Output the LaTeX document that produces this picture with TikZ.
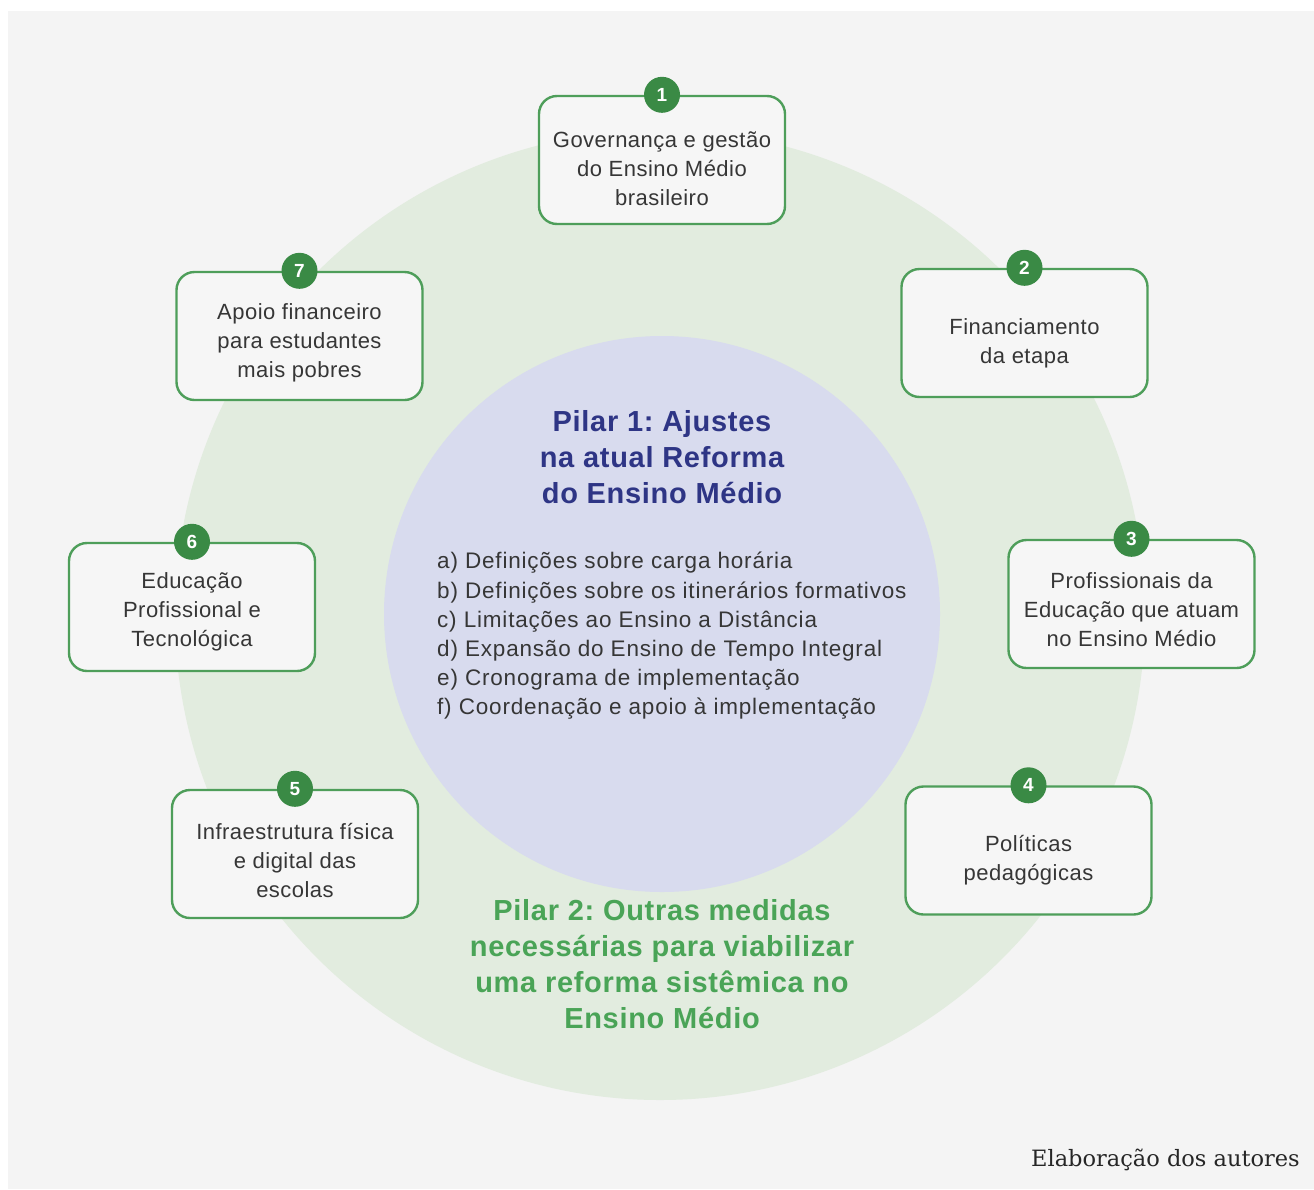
\documentclass[tikz,border=0pt]{standalone}
\usepackage{fontspec}
\setmainfont{Liberation Sans}
\newfontfamily\boxfont[LetterSpace=2.2]{Liberation Sans}
\newfontfamily\listfont[LetterSpace=3.6]{Liberation Sans}
\newfontfamily\titlefont[LetterSpace=2.4]{Liberation Sans}
\newfontfamily\slabfont{DejaVu Serif}
\frenchspacing
\definecolor{bggrey}{HTML}{F4F4F4}
\definecolor{outergreen}{HTML}{E2ECDF}
\definecolor{innerlav}{HTML}{D8DBEE}
\definecolor{boxgreen}{HTML}{4E9E5A}
\definecolor{badgegreen}{HTML}{3A8A45}
\definecolor{boxfill}{HTML}{F6F6F6}
\definecolor{titleblue}{HTML}{2E3585}
\definecolor{pilartwo}{HTML}{4AA457}
\definecolor{txtgrey}{HTML}{363636}
\tikzset{
  pillarbox/.style={rectangle, rounded corners=18pt, draw=boxgreen, line width=2.4pt, fill=boxfill, minimum width=246pt, minimum height=128pt, inner sep=0pt},
  badge/.style={circle, fill=badgegreen, minimum size=36pt, inner sep=0pt, text=white, font=\fontsize{19}{19}\selectfont\bfseries},
  boxtext/.style={align=center, text=txtgrey, font=\boxfont\fontsize{22}{29}\selectfont, inner sep=0pt},
}
\begin{document}
\begin{tikzpicture}[x=1pt,y=-1pt]
\useasboundingbox (0,0) rectangle (1314,1189);
\fill[white] (0,0) rectangle (1314,1189);
\fill[bggrey] (8,11) rectangle (1314,1189);
\node[circle, fill=outergreen, minimum size=970pt, inner sep=0pt] (outer) at (660,615) {};
\node[circle, fill=innerlav, minimum size=556pt, inner sep=0pt] (inner) at (662,614) {};

\node[pillarbox] (b1) at (662,160) {};
\node[pillarbox] (b2) at (1024.5,333) {};
\node[pillarbox] (b3) at (1131.5,604) {};
\node[pillarbox] (b4) at (1028.5,850.5) {};
\node[pillarbox] (b5) at (295,854) {};
\node[pillarbox] (b6) at (192,607) {};
\node[pillarbox] (b7) at (299.5,336) {};

\node[badge] (n1) at (b1.north) {1};
\node[badge] (n2) at (b2.north) {2};
\node[badge] (n3) at (b3.north) {3};
\node[badge] (n4) at (b4.north) {4};
\node[badge] (n5) at (b5.north) {5};
\node[badge] (n6) at (b6.north) {6};
\node[badge] (n7) at (b7.north) {7};

\node[boxtext] (t1) at ([yshift=-9pt]b1.center) {Governança e gestão\\do Ensino Médio\\brasileiro};
\node[boxtext] (t2) at ([yshift=-10pt]b2.center) {Financiamento\\da etapa};
\node[boxtext] (t3) at ([yshift=-6pt]b3.center) {Profissionais da\\Educação que atuam\\no Ensino Médio};
\node[boxtext] (t4) at ([yshift=-10pt]b4.center) {Políticas\\pedagógicas};
\node[boxtext] (t5) at ([yshift=-6pt]b5.center) {Infraestrutura física\\e digital das\\escolas};
\node[boxtext] (t6) at ([yshift=-5pt]b6.center) {Educação\\Profissional e\\Tecnológica};
\node[boxtext] (t7) at ([yshift=-7pt]b7.center) {Apoio financeiro\\para estudantes\\mais pobres};

\node[align=center, text=titleblue, font=\titlefont\fontsize{29}{36}\selectfont\bfseries, inner sep=0pt] (p1) at (662,457) {Pilar 1: Ajustes\\na atual Reforma\\do Ensino Médio};
\node[align=left, anchor=west, text=txtgrey, font=\listfont\fontsize{22.5}{29.2}\selectfont, inner sep=0pt] (list) at (437,636) {a) Definições sobre carga horária\\b) Definições sobre os itinerários formativos\\c) Limitações ao Ensino a Distância\\d) Expansão do Ensino de Tempo Integral\\e) Cronograma de implementação\\f) Coordenação e apoio à implementação};
\node[align=center, text=pilartwo, font=\titlefont\fontsize{29}{36}\selectfont\bfseries, inner sep=0pt] (p2) at (662,964) {Pilar 2: Outras medidas\\necessárias para viabilizar\\uma reforma sistêmica no\\Ensino Médio};

\node[anchor=base east, text=black!85, font=\slabfont\fontsize{22.5}{26}\selectfont, inner sep=0pt] (credit) at (1300,1166) {Elaboração dos autores};
\end{tikzpicture}
\end{document}
